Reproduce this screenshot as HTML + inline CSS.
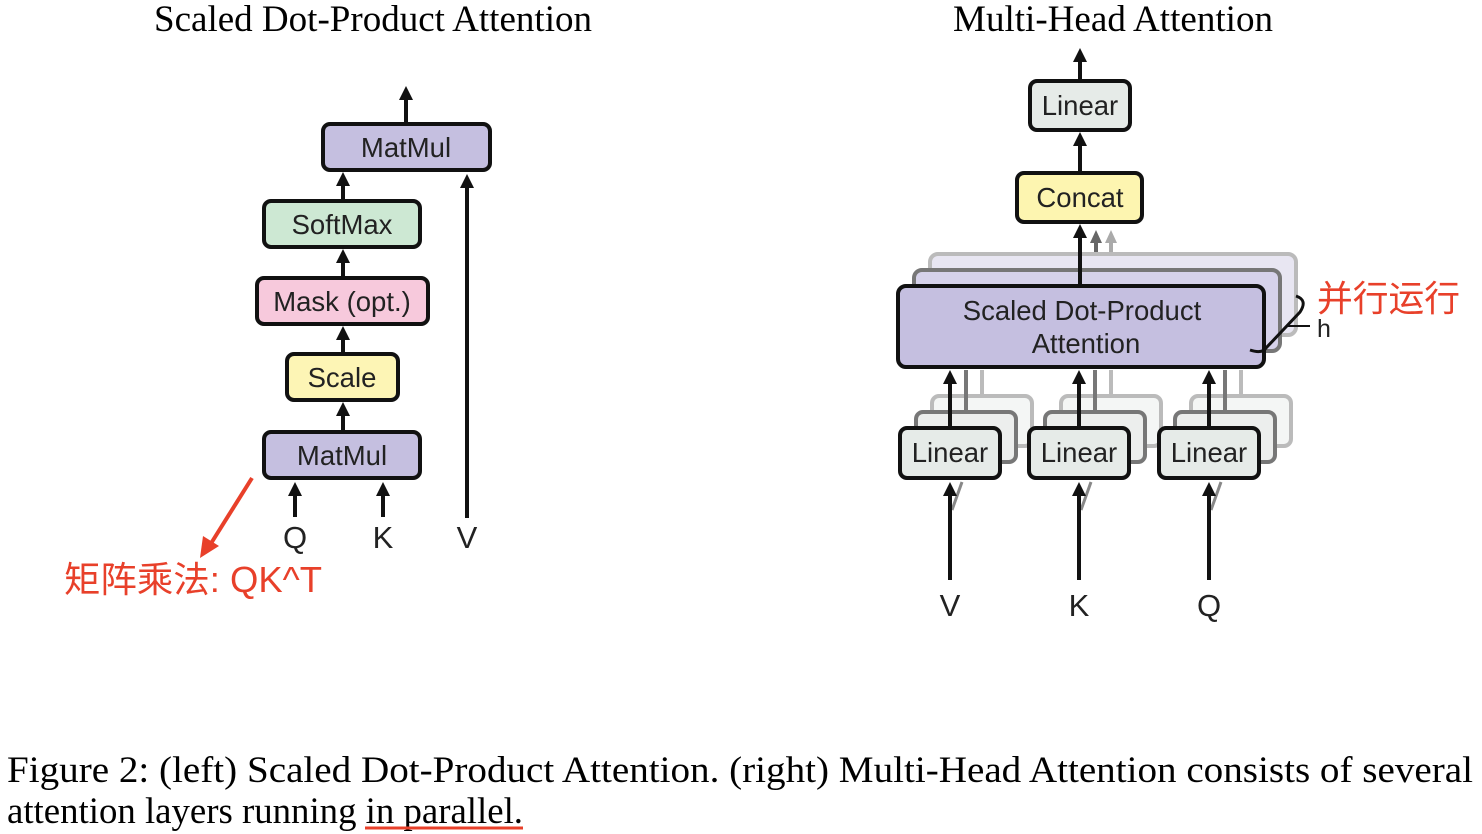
<!DOCTYPE html>
<html><head><meta charset="utf-8"><style>
html,body{margin:0;padding:0;background:#fff;}
svg{display:block;}
</style></head><body>
<svg width="1482" height="834" viewBox="0 0 1482 834" xmlns="http://www.w3.org/2000/svg">
<style>
.b{stroke:#111;stroke-width:4;}
.t{font-family:"Liberation Sans",sans-serif;font-size:27.5px;fill:#222;text-anchor:middle;}
.s{font-family:"Liberation Serif",serif;font-size:36.5px;fill:#000;}
.ln{stroke:#111;stroke-width:4;fill:none;}
</style>
<text class="s" x="373" y="31" text-anchor="middle" textLength="438" lengthAdjust="spacingAndGlyphs">Scaled Dot-Product Attention</text>
<text class="s" x="1113" y="31" text-anchor="middle" textLength="320" lengthAdjust="spacingAndGlyphs">Multi-Head Attention</text>

<g id="left">
<line class="ln" x1="406" y1="124" x2="406" y2="96"/><polygon points="399,100 406,86 413,100" fill="#111"/>
<rect x="323" y="124" width="167" height="46" rx="7" fill="#c5bfe0" class="b"/>
<text class="t" x="406" y="157">MatMul</text>
<line class="ln" x1="343" y1="201" x2="343" y2="182"/><polygon points="336,186 343,172 350,186" fill="#111"/>
<rect x="264" y="201" width="156" height="46" rx="7" fill="#cde8d3" class="b"/>
<text class="t" x="342" y="234">SoftMax</text>
<line class="ln" x1="343" y1="278" x2="343" y2="259"/><polygon points="336,263 343,249 350,263" fill="#111"/>
<rect x="257" y="278" width="171" height="46" rx="7" fill="#f7c9dc" class="b"/>
<text class="t" x="342" y="311">Mask (opt.)</text>
<line class="ln" x1="343" y1="354" x2="343" y2="336"/><polygon points="336,340 343,326 350,340" fill="#111"/>
<rect x="287" y="354" width="111" height="46" rx="7" fill="#fdf5b5" class="b"/>
<text class="t" x="342" y="387">Scale</text>
<line class="ln" x1="343" y1="432" x2="343" y2="412"/><polygon points="336,416 343,402 350,416" fill="#111"/>
<rect x="264" y="432" width="156" height="46" rx="7" fill="#c5bfe0" class="b"/>
<text class="t" x="342" y="465">MatMul</text>
<line class="ln" x1="295" y1="517" x2="295" y2="492"/><polygon points="288,496 295,482 302,496" fill="#111"/>
<line class="ln" x1="383" y1="517" x2="383" y2="492"/><polygon points="376,496 383,482 390,496" fill="#111"/>
<line class="ln" x1="467" y1="518" x2="467" y2="184"/><polygon points="460,188 467,174 474,188" fill="#111"/>
<text class="t" x="295" y="548" style="font-size:31px">Q</text>
<text class="t" x="383" y="548" style="font-size:31px">K</text>
<text class="t" x="467" y="548" style="font-size:31px">V</text>
<line x1="252" y1="478" x2="210" y2="545" stroke="#e8402a" stroke-width="4"/>
<polygon points="200,558 203,536 219,546" fill="#e8402a"/>
<text x="64" y="592" font-family="Liberation Sans,Noto Sans CJK SC,sans-serif" font-size="36" fill="#e8402a" textLength="258" lengthAdjust="spacingAndGlyphs">矩阵乘法: QK^T</text>
</g>

<g id="right">
<line class="ln" x1="1080" y1="81" x2="1080" y2="58"/><polygon points="1073,62 1080,48 1087,62" fill="#111"/>
<rect x="1030" y="81" width="100" height="49" rx="7" fill="#e6ebe8" class="b"/>
<text class="t" x="1080" y="115">Linear</text>
<line class="ln" x1="1080" y1="173" x2="1080" y2="142"/><polygon points="1073,146 1080,132 1087,146" fill="#111"/>
<rect x="1017" y="173" width="125" height="49" rx="7" fill="#fdf5b0" class="b"/>
<text class="t" x="1080" y="207">Concat</text>
<line x1="1111" y1="270" x2="1111" y2="240" stroke="#aaa" stroke-width="4"/><polygon points="1105,243 1111,230 1117,243" fill="#aaa"/>
<line x1="1096" y1="270" x2="1096" y2="240" stroke="#666" stroke-width="4"/><polygon points="1090,243 1096,230 1102,243" fill="#666"/>
<rect x="930" y="254" width="366" height="81" rx="8" fill="#e8e6f2" stroke="#bbb" stroke-width="4"/>
<rect x="914" y="270" width="366" height="81" rx="8" fill="#d6d2ea" stroke="#777" stroke-width="4"/>
<line class="ln" x1="1080" y1="286" x2="1080" y2="234"/><polygon points="1073,238 1080,224 1087,238" fill="#111"/>
<rect x="898" y="286" width="366" height="81" rx="8" fill="#c5bfe0" class="b"/>
<text class="t" x="1082" y="320">Scaled Dot-Product</text>
<text class="t" x="1086" y="353">Attention</text>
<path d="M1296,296 Q1308,300 1300,312 L1266,348 Q1262,354 1250,350" fill="none" stroke="#111" stroke-width="3"/>
<line x1="1288" y1="326" x2="1310" y2="326" stroke="#111" stroke-width="2"/>
<text x="1317" y="337" font-family="Liberation Sans,sans-serif" font-size="25" fill="#222">h</text>
<text x="1317" y="311" font-family="Liberation Sans,Noto Sans CJK SC,sans-serif" font-size="36" fill="#e8402a" textLength="143" lengthAdjust="spacingAndGlyphs">并行运行</text>
<g>
<rect x="932" y="396" width="100" height="50" rx="7" fill="#f4f6f5" stroke="#bbb" stroke-width="4"/>
<rect x="916" y="412" width="100" height="50" rx="7" fill="#eceeed" stroke="#777" stroke-width="4"/>
<line x1="982" y1="396" x2="982" y2="370" stroke="#bbb" stroke-width="4"/>
<line x1="966" y1="412" x2="966" y2="370" stroke="#777" stroke-width="4"/>
<line class="ln" x1="950" y1="428" x2="950" y2="380"/><polygon points="943,384 950,370 957,384" fill="#111"/>
<rect x="900" y="428" width="100" height="50" rx="7" fill="#e6ebe8" class="b"/>
<text class="t" x="950" y="462">Linear</text>
</g>
<g transform="translate(129,0)">
<rect x="932" y="396" width="100" height="50" rx="7" fill="#f4f6f5" stroke="#bbb" stroke-width="4"/>
<rect x="916" y="412" width="100" height="50" rx="7" fill="#eceeed" stroke="#777" stroke-width="4"/>
<line x1="982" y1="396" x2="982" y2="370" stroke="#bbb" stroke-width="4"/>
<line x1="966" y1="412" x2="966" y2="370" stroke="#777" stroke-width="4"/>
<line class="ln" x1="950" y1="428" x2="950" y2="380"/><polygon points="943,384 950,370 957,384" fill="#111"/>
<rect x="900" y="428" width="100" height="50" rx="7" fill="#e6ebe8" class="b"/>
<text class="t" x="950" y="462">Linear</text>
</g>
<g transform="translate(259,0)">
<rect x="932" y="396" width="100" height="50" rx="7" fill="#f4f6f5" stroke="#bbb" stroke-width="4"/>
<rect x="916" y="412" width="100" height="50" rx="7" fill="#eceeed" stroke="#777" stroke-width="4"/>
<line x1="982" y1="396" x2="982" y2="370" stroke="#bbb" stroke-width="4"/>
<line x1="966" y1="412" x2="966" y2="370" stroke="#777" stroke-width="4"/>
<line class="ln" x1="950" y1="428" x2="950" y2="380"/><polygon points="943,384 950,370 957,384" fill="#111"/>
<rect x="900" y="428" width="100" height="50" rx="7" fill="#e6ebe8" class="b"/>
<text class="t" x="950" y="462">Linear</text>
</g>
<line x1="952" y1="510" x2="962" y2="482" stroke="#888" stroke-width="3"/>
<line class="ln" x1="950" y1="580" x2="950" y2="492"/><polygon points="943,496 950,482 957,496" fill="#111"/>
<line x1="1081" y1="510" x2="1091" y2="482" stroke="#888" stroke-width="3"/>
<line class="ln" x1="1079" y1="580" x2="1079" y2="492"/><polygon points="1072,496 1079,482 1086,496" fill="#111"/>
<line x1="1211" y1="510" x2="1221" y2="482" stroke="#888" stroke-width="3"/>
<line class="ln" x1="1209" y1="580" x2="1209" y2="492"/><polygon points="1202,496 1209,482 1216,496" fill="#111"/>
<text class="t" x="950" y="616" style="font-size:31px">V</text>
<text class="t" x="1079" y="616" style="font-size:31px">K</text>
<text class="t" x="1209" y="616" style="font-size:31px">Q</text>
</g>

<text class="s" x="7" y="782" textLength="1466" lengthAdjust="spacingAndGlyphs">Figure 2: (left) Scaled Dot-Product Attention. (right) Multi-Head Attention consists of several</text>
<text class="s" x="7" y="823" textLength="516" lengthAdjust="spacingAndGlyphs">attention layers running in parallel.</text>
<line x1="365" y1="828" x2="523" y2="828" stroke="#e8402a" stroke-width="3"/>
</svg>
</body></html>
